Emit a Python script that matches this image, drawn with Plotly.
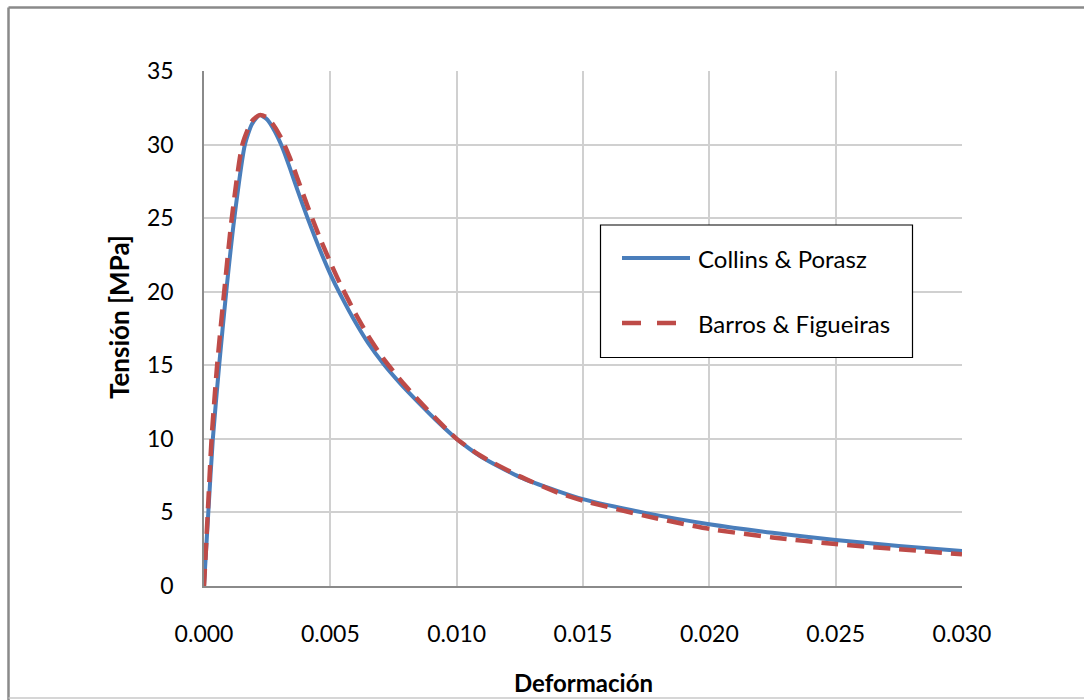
import plotly.graph_objects as go

# Collins & Porasz curve
collins_strain = [0.0, 0.00017, 0.00035, 0.0006, 0.00088, 0.0012, 0.00162, 0.0019, 0.0022,
                  0.0025, 0.0028, 0.0031, 0.0034, 0.0037, 0.0041, 0.0046, 0.0050, 0.0054, 0.0060,
                  0.0065, 0.0071, 0.0078, 0.0085, 0.0092, 0.0100, 0.0110, 0.0125, 0.0140,
                  0.0150, 0.0175, 0.0200, 0.0225, 0.0250, 0.0275, 0.0300]
collins_stress = [0.0, 5.0, 10.0, 15.0, 20.0, 25.0, 30.0, 31.4, 32.0,
                  31.7, 30.9, 29.8, 28.4, 26.9, 25.0, 22.8, 21.2, 19.8, 17.9,
                  16.5, 15.1, 13.7, 12.45, 11.25, 10.0, 8.75, 7.4, 6.45,
                  5.9, 4.95, 4.2, 3.62, 3.13, 2.72, 2.38]

# Barros & Figueiras curve
barros_strain = [0.0, 0.00015, 0.0003, 0.00052, 0.0008, 0.0011, 0.00152, 0.0019, 0.0022,
                 0.0025, 0.0028, 0.0031, 0.0034, 0.0037, 0.0041, 0.0046, 0.0050, 0.0054, 0.0060,
                 0.0065, 0.0071, 0.0078, 0.0085, 0.0092, 0.0100, 0.0110, 0.0125, 0.0140,
                 0.0150, 0.0175, 0.0200, 0.0225, 0.0250, 0.0275, 0.0300]
barros_stress = [0.0, 5.0, 10.0, 15.0, 20.0, 25.0, 30.0, 31.6, 32.0,
                 31.85, 31.2, 30.3, 29.1, 27.7, 25.8, 23.6, 22.0, 20.5, 18.5,
                 17.0, 15.45, 13.95, 12.6, 11.35, 10.0, 8.8, 7.45, 6.35,
                 5.8, 4.75, 3.88, 3.3, 2.85, 2.5, 2.15]

series_names = ["Collins & Porasz", "Barros & Figueiras"]
x_ticks = [0.0, 0.005, 0.010, 0.015, 0.020, 0.025, 0.030]
y_ticks = [0, 5, 10, 15, 20, 25, 30, 35]

BLUE = "#4A7EBB"
RED = "#BE4B48"
FONT = "Lato"

fig = go.Figure()
fig.add_trace(go.Scatter(x=collins_strain, y=collins_stress, mode="lines",
                         line=dict(color=BLUE, width=4, shape="spline", smoothing=0.6),
                         name=series_names[0], showlegend=False))
fig.add_trace(go.Scatter(x=barros_strain, y=barros_stress, mode="lines",
                         line=dict(color=RED, width=4.5, dash="17px,9px", shape="spline", smoothing=0.6),
                         name=series_names[1], showlegend=False))

L, R, T, B = 204, 122, 71, 114
W, H = 1084, 700
pw, ph = W - L - R, H - T - B

def px(xp):
    return (xp - L) / pw

def py(yp):
    return (H - B - yp) / ph

shapes = []
# outer chart border
shapes.append(dict(type="line", xref="paper", yref="paper", x0=px(8.5), x1=px(1100), y0=py(7.5), y1=py(7.5),
                   line=dict(color="#8a8a8a", width=2.5)))
shapes.append(dict(type="line", xref="paper", yref="paper", x0=px(8.5), x1=px(8.5), y0=py(7.5), y1=py(700),
                   line=dict(color="#8a8a8a", width=2.5)))
shapes.append(dict(type="line", xref="paper", yref="paper", x0=px(8.5), x1=px(1100), y0=py(698), y1=py(698),
                   line=dict(color="#c8c8c8", width=1.5)))
# legend box
shapes.append(dict(type="rect", xref="paper", yref="paper", x0=px(600.5), x1=px(912.5), y0=py(357.5), y1=py(225),
                   line=dict(color="#000000", width=1.2), fillcolor="white", layer="above"))
shapes.append(dict(type="line", xref="paper", yref="paper", x0=px(622), x1=px(690), y0=py(258), y1=py(258),
                   line=dict(color=BLUE, width=4), layer="above"))
shapes.append(dict(type="line", xref="paper", yref="paper", x0=px(622), x1=px(676), y0=py(323), y1=py(323),
                   line=dict(color=RED, width=4.5, dash="19px,16px"), layer="above"))

annotations = [
    dict(text=series_names[0], xref="paper", yref="paper", x=px(696), y=py(258), xanchor="left", yanchor="middle",
         showarrow=False, font=dict(family=FONT, size=24, color="#000")),
    dict(text=series_names[1], xref="paper", yref="paper", x=px(696), y=py(323), xanchor="left", yanchor="middle",
         showarrow=False, font=dict(family=FONT, size=24, color="#000")),
    dict(text="<b>Deformación</b>", xref="paper", yref="paper", x=px(583), y=py(682), xanchor="center", yanchor="middle",
         showarrow=False, font=dict(family=FONT, size=24, color="#000")),
    dict(text="<b>Tensión [MPa]</b>", xref="paper", yref="paper", x=px(119), y=py(317), xanchor="center", yanchor="middle",
         textangle=-90, showarrow=False, font=dict(family=FONT, size=26, color="#000")),
]

fig.update_layout(
    width=W, height=H,
    margin=dict(l=L, r=R, t=T, b=B, autoexpand=False),
    paper_bgcolor="white", plot_bgcolor="white",
    font=dict(family=FONT, size=23, color="#000"),
    shapes=shapes, annotations=annotations,
    showlegend=False,
)
fig.update_xaxes(range=[0, 0.030], tickvals=x_ticks, tickformat=".3f", showgrid=True, gridcolor="#d0d0d0",
                 gridwidth=1.5, showline=True, linecolor="#8a8a8a", linewidth=1.5, zeroline=False,
                 ticks="", ticklabelstandoff=27, tickfont=dict(family=FONT, size=23, color="#000"))
fig.update_yaxes(range=[0, 35], tickvals=y_ticks, showgrid=True, gridcolor="#d0d0d0", gridwidth=1.5,
                 showline=True, linecolor="#8a8a8a", linewidth=1.5, zeroline=False,
                 ticks="", ticklabelstandoff=24, tickfont=dict(family=FONT, size=23, color="#000"))

fig.write_html("out.html")
